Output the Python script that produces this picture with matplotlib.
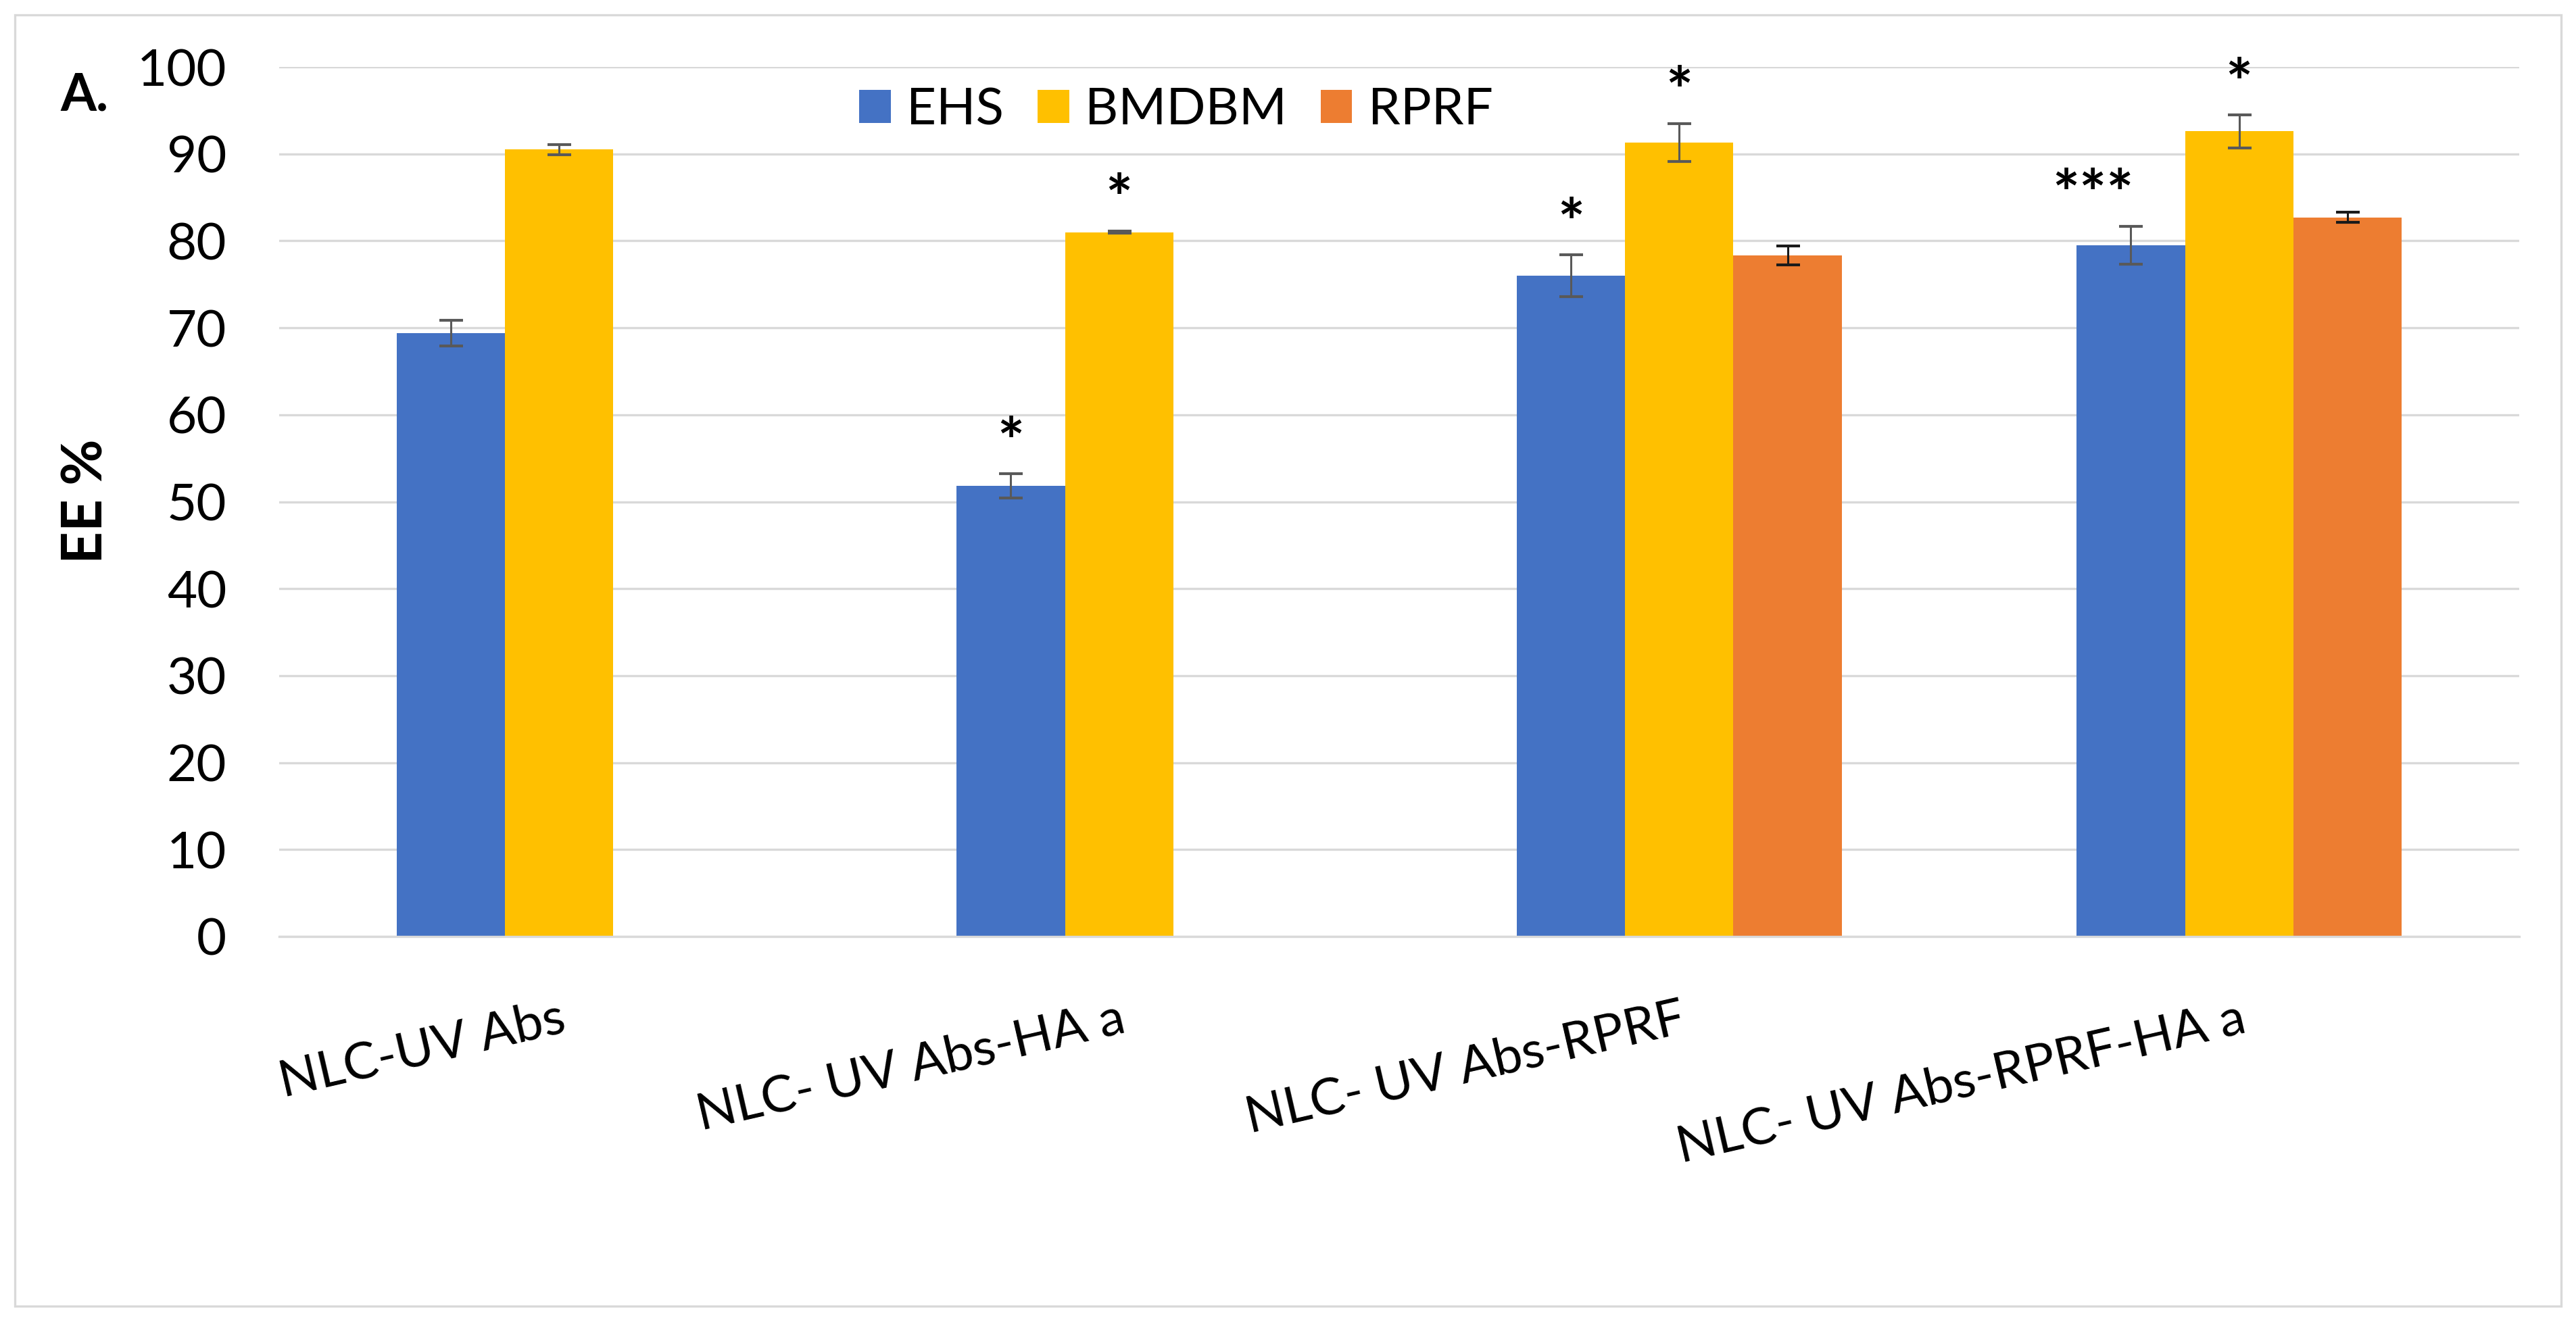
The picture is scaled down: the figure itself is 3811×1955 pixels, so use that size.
import numpy as np
import matplotlib.pyplot as plt
from matplotlib.patches import Rectangle

plt.rcParams['font.family'] = ['Lato', 'DejaVu Sans']

categories = ["NLC-UV Abs", "NLC- UV Abs-HA a", "NLC- UV Abs-RPRF", "NLC- UV Abs-RPRF-HA a"]
series = ["EHS", "BMDBM", "RPRF"]

ehs = [69.4, 51.8, 76.0, 79.5]
bmdbm = [90.5, 81.0, 91.3, 92.6]
rprf = [np.nan, np.nan, 78.3, 82.7]

ehs_err = [1.5, 1.4, 2.4, 2.2]
bmdbm_err = [0.6, 0.15, 2.2, 1.9]
rprf_err = [np.nan, np.nan, 1.1, 0.6]

ehs_sig = ["", "*", "*", "***"]
bmdbm_sig = ["", "*", "*", "*"]
rprf_sig = ["", "", "", ""]

colors = ["#4472C4", "#FFC000", "#ED7D31"]
err_colors = ["#595959", "#595959", "#1a1a1a"]

W, H = 3812, 1955
fig = plt.figure(figsize=(W / 100, H / 100), dpi=100)
ax = fig.add_axes([413 / W, 1 - 1386 / H, (3727 - 413) / W, (1386 - 99) / H])

x = np.arange(len(categories))
w = 0.1935
values = [ehs, bmdbm, rprf]
errors = [ehs_err, bmdbm_err, rprf_err]
sigs = [ehs_sig, bmdbm_sig, rprf_sig]

for i, name in enumerate(series):
    pos = x + (i - 1) * w
    ax.bar(pos, values[i], width=w, color=colors[i], label=name, zorder=2)
    ax.errorbar(pos, values[i], yerr=errors[i], fmt="none", ecolor=err_colors[i],
                elinewidth=2.2, capsize=12.6, capthick=3, zorder=3)
    for p, v, e, s in zip(pos, values[i], errors[i], sigs[i]):
        if s:
            # excel nudged the triple star label a bit to the left
            dx = -40 if s == "***" else 0
            ax.annotate(s, (p, v + e), xytext=(dx, 11), textcoords="offset points",
                        ha="center", va="baseline", fontsize=68, fontweight="bold")

ax.set_xlim(-0.5, 3.5)
ax.set_ylim(0, 100)
ax.set_yticks(range(0, 101, 10))
ax.yaxis.grid(True, color="#d9d9d9", lw=2.4)
ax.set_axisbelow(True)
for side in ["top", "right", "left"]:
    ax.spines[side].set_visible(False)
ax.spines["bottom"].set_color("#d9d9d9")
ax.spines["bottom"].set_linewidth(2.4)

ax.set_xticks(x)
ax.set_xticklabels(categories, rotation=13, ha="right", rotation_mode="anchor")
ax.tick_params(axis="x", length=0, labelsize=55, pad=62)
ax.tick_params(axis="y", length=0, labelsize=55, pad=56)

ax.legend(loc="center", bbox_to_anchor=(1740 / W, 1 - 163 / H), bbox_transform=fig.transFigure,
          ncol=3, frameon=False, fontsize=55, handlelength=0.61, handleheight=0.6,
          handletextpad=0.31, columnspacing=0.65, borderpad=0, borderaxespad=0)

fig.text(128 / W, 1 - 742 / H, "EE %", rotation=90, ha="center", va="center",
         fontsize=60, fontweight="bold")
fig.text(125 / W, 1 - 142 / H, "A.", ha="center", va="center", fontsize=55, fontweight="bold")

fig.patches.append(Rectangle((22 / W, 1 - 1933 / H), (3789 - 22) / W, (1933 - 22) / H,
                             transform=fig.transFigure, fill=False, edgecolor="#d9d9d9", lw=2.4))

fig.savefig("out.png", dpi=100)
